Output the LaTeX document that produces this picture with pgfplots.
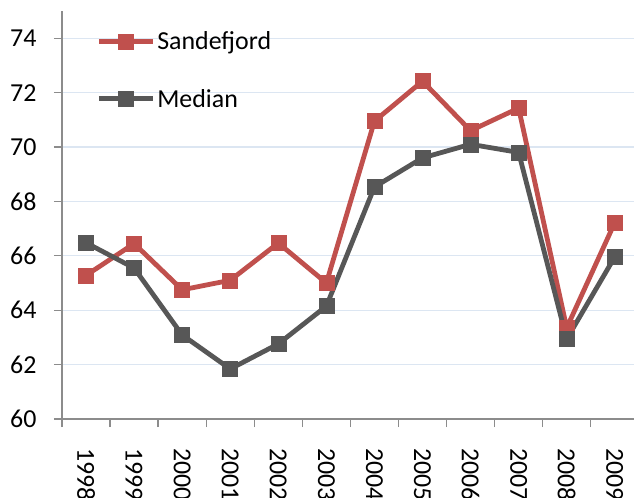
\documentclass[border=0pt]{standalone}
\usepackage{fontspec}
\setmainfont{Carlito}
\usepackage{pgfplots}
\pgfplotsset{compat=1.18}

\definecolor{sandred}{HTML}{C0504D}
\definecolor{medgray}{HTML}{575757}
\definecolor{axgray}{HTML}{8C8C8C}
\definecolor{gridblue}{HTML}{DCE6F2}

\begin{document}
\begin{tikzpicture}
\begin{axis}[
  name=ax,
  scale only axis, width=572bp, height=408bp,
  xmin=-0.5, xmax=11.4, ymin=60, ymax=75,
  axis x line*=bottom, axis y line*=left,
  axis line style={axgray, line width=1.3bp},
  xtick={0,...,11},
  xticklabels={1998,1999,2000,2001,2002,2003,2004,2005,2006,2007,2008,2009},
  xtick style={draw=none},
  minor xtick={-0.5,0.5,...,11.5},
  minor x tick style={draw=axgray, line width=1.3bp},
  ytick={60,62,...,74},
  ytick style={axgray, line width=1.3bp},
  tick align=outside, major tick length=8bp, minor tick length=8bp,
  ymajorgrids, grid style={gridblue, line width=1.3bp},
  /pgf/number format/assume math mode=true,
  tick label style={font=\fontsize{26}{31}\selectfont},
  xticklabel style={rotate=-90, anchor=west, xshift=18bp},
  yticklabel style={xshift=-14bp},
  legend style={draw=none, fill=none, at={(0.06,0.955)}, anchor=north west,
    font=\fontsize{26}{31}\selectfont, row sep=34bp, inner sep=0pt,
    /tikz/every even column/.append style={column sep=0bp}},
  legend cell align=left,
  legend image code/.code={
    \draw[mark repeat=2, mark phase=2, #1] plot coordinates {(0bp,0bp) (27bp,0bp) (54bp,0bp)};},
  every axis plot/.append style={line width=4.8bp, mark=square*, mark size=7.5bp,
    mark options={solid, line width=0.5bp}},
]
\addplot[color=sandred] coordinates {
  (0,65.28) (1,66.45) (2,64.75) (3,65.1) (4,66.47) (5,65.0)
  (6,70.95) (7,72.42) (8,70.6) (9,71.43) (10,63.35) (11,67.22)};
\addlegendentry{Sandefjord}
\addplot[color=medgray] coordinates {
  (0,66.48) (1,65.55) (2,63.09) (3,61.84) (4,62.76) (5,64.15)
  (6,68.53) (7,69.6) (8,70.1) (9,69.8) (10,62.94) (11,65.96)};
\addlegendentry{Median}
\end{axis}
\pgfresetboundingbox
\path ([xshift=-62bp,yshift=-79bp]ax.south west) rectangle ([yshift=11bp]ax.north east);
\end{tikzpicture}
\end{document}
